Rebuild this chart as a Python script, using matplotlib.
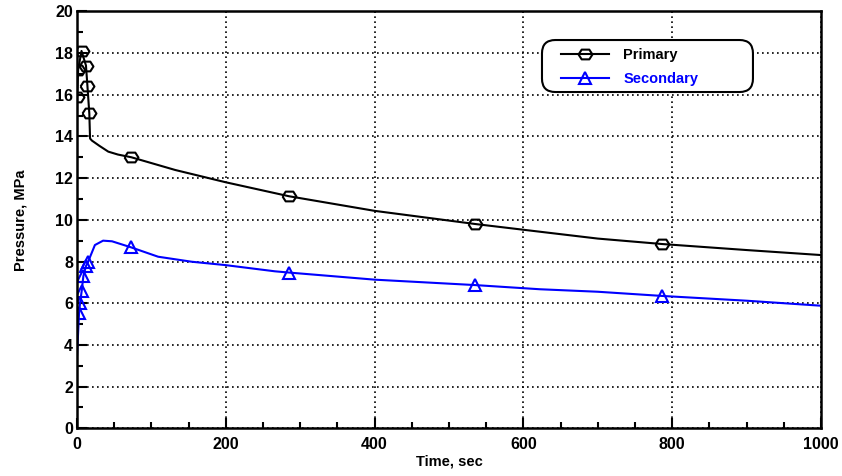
import matplotlib
matplotlib.use('Agg')
import matplotlib.pyplot as plt
from matplotlib.patches import FancyBboxPatch
from matplotlib.ticker import MultipleLocator

plt.rcParams['font.family'] = ['Liberation Sans', 'DejaVu Sans']
plt.rcParams['font.weight'] = 'bold'
narrow = ['Liberation Sans Narrow', 'Liberation Sans', 'DejaVu Sans']

# primary side pressure (MPa) vs time (sec)
primary_t = [0, 1.5, 6, 12, 14, 16.5, 17.5, 20, 30, 42, 55, 73, 132, 200, 285,
             400, 535, 622, 700, 786, 900, 1000]
primary_p = [15.9, 17.2, 18.1, 17.4, 16.4, 15.1, 13.9, 13.8, 13.55, 13.27, 13.13, 13.0,
             12.39, 11.8, 11.13, 10.43, 9.8, 9.43, 9.1, 8.84, 8.55, 8.31]
primary_marks = [0, 1, 2, 3, 4, 5, 11, 14, 16, 19]

# secondary side pressure
secondary_t = [0, 2.7, 4, 6.3, 8.5, 12, 15, 24, 35, 47, 72.6, 109, 154, 199, 266,
               285, 400, 535, 622, 700, 786, 900, 1000]
secondary_p = [3.5, 5.53, 6.0, 6.6, 7.3, 7.78, 8.0, 8.79, 9.0, 8.97, 8.68, 8.23, 7.99,
               7.83, 7.53, 7.47, 7.13, 6.87, 6.67, 6.55, 6.35, 6.12, 5.88]
secondary_marks = [1, 2, 3, 4, 5, 6, 10, 15, 17, 20]

# flattened hexagon for the primary markers
hexagon = [(-1, 0), (-0.55, 0.7), (0.55, 0.7), (1, 0), (0.55, -0.7), (-0.55, -0.7), (-1, 0)]

fig = plt.figure(figsize=(8.42, 4.76), dpi=100)
ax = fig.add_axes([0.0915, 0.1002, 0.8835, 0.876])

ax.plot(primary_t, primary_p, color='black', lw=1.5, marker=hexagon, ms=10,
        mfc='none', mec='black', mew=1.5, markevery=primary_marks, label='Primary')
ax.plot(secondary_t, secondary_p, color='#0000ff', lw=1.5, marker='^', ms=8,
        mfc='none', mec='#0000ff', mew=1.5, markevery=secondary_marks, label='Secondary')

ax.set_xlim(0, 1000)
ax.set_ylim(0, 20)
ax.xaxis.set_major_locator(MultipleLocator(200))
ax.xaxis.set_minor_locator(MultipleLocator(50))
ax.yaxis.set_major_locator(MultipleLocator(2))
ax.yaxis.set_minor_locator(MultipleLocator(1))
ax.tick_params(which='both', direction='in', top=False, right=False, width=1.5)
ax.tick_params(which='major', length=7)
ax.tick_params(which='minor', length=4)
ax.tick_params(axis='x', pad=6)
ax.tick_params(axis='y', pad=3)
for lab in ax.get_xticklabels() + ax.get_yticklabels():
    lab.set_family(narrow)
    lab.set_fontsize(11.5)
    lab.set_fontweight('bold')

ax.grid(True, which='major', color='black', linestyle=(0, (1, 2)), linewidth=1.2)
for sp in ax.spines.values():
    sp.set_linewidth(1.8)

ax.set_xlabel('Time, sec', fontsize=10.5, fontweight='bold', labelpad=2)
ax.set_ylabel('Pressure, MPa', fontsize=10.5, fontweight='bold', labelpad=20)

# rounded legend box
box = FancyBboxPatch((0.625, 0.8065), 0.2836, 0.1247, transform=ax.transAxes,
                     boxstyle='round,pad=0,rounding_size=0.018', mutation_aspect=1.78,
                     facecolor='white', edgecolor='black', linewidth=1.5, zorder=4)
ax.add_patch(box)

leg = ax.legend(loc='upper left', bbox_to_anchor=(0.6501, 0.911), borderaxespad=0,
                borderpad=0, fontsize=10.5, handlelength=3.3, handletextpad=1.0,
                labelspacing=0.65, numpoints=1, frameon=False)
leg.set_zorder(5)
for txt, line in zip(leg.get_texts(), leg.get_lines()):
    txt.set_color(line.get_color())
    txt.set_fontweight('bold')

fig.savefig('out.png', dpi=100)
